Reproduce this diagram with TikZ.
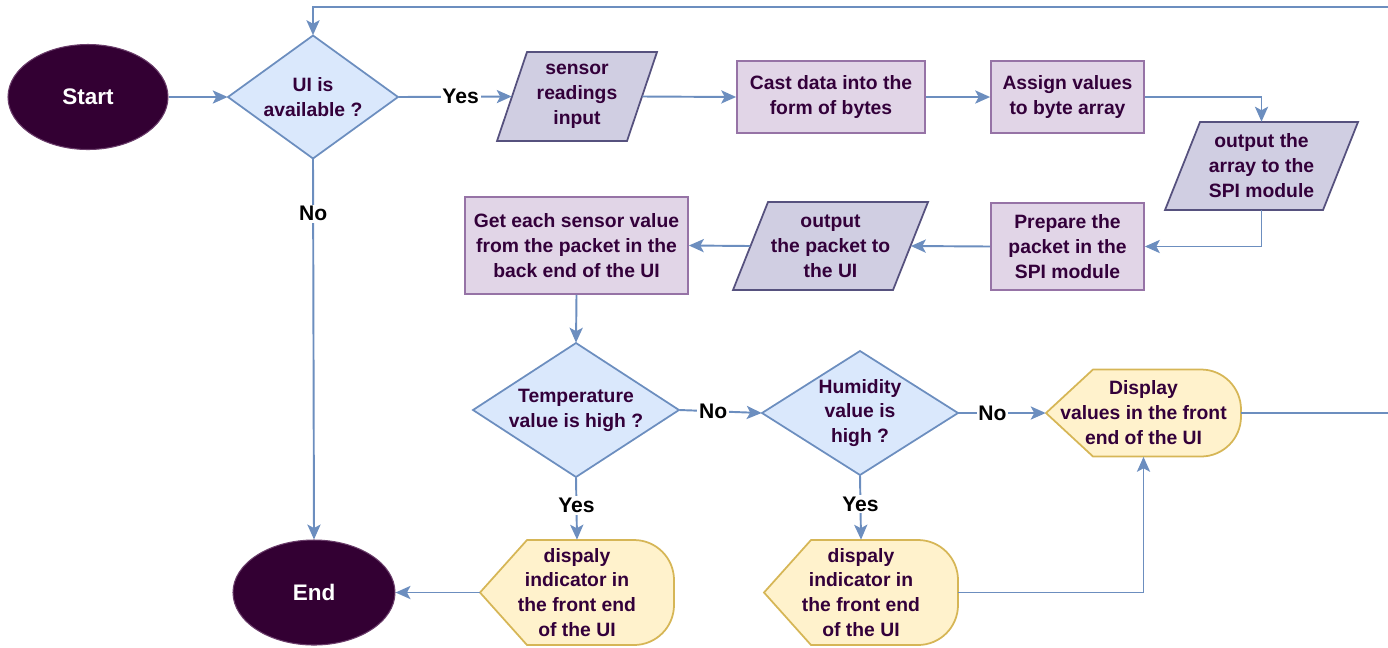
\documentclass[tikz,border=0pt]{standalone}
\usepackage{fontspec}
\setmainfont{Liberation Sans}
\usetikzlibrary{shapes.geometric,arrows.meta}

\definecolor{txt}{HTML}{33003A}
\definecolor{termfill}{HTML}{330033}
\definecolor{termedge}{HTML}{6A3D6A}
\definecolor{link}{HTML}{6C8EBF}
\definecolor{decfill}{HTML}{DAE8FC}
\definecolor{procfill}{HTML}{E1D5E7}
\definecolor{procedge}{HTML}{9673A6}
\definecolor{iofill}{HTML}{D0CEE2}
\definecolor{ioedge}{HTML}{56517E}
\definecolor{dispfill}{HTML}{FFF2CC}
\definecolor{dispedge}{HTML}{D6B656}

\tikzset{
  lbl/.style={font=\bfseries\fontsize{11}{14.2}\selectfont, text=txt, align=center, inner sep=0pt},
  term/.style={ellipse, fill=termfill, draw=termedge, line width=0.6pt,
    font=\bfseries\fontsize{12.8}{15}\selectfont, text=white, inner sep=0pt},
  proc/.style={rectangle, draw=procedge, fill=procfill, line width=1pt, lbl},
  iobox/.style={draw=ioedge, fill=iofill, line width=1pt},
  decbox/.style={draw=link, fill=decfill, line width=1pt},
  dispbox/.style={draw=dispedge, fill=dispfill, line width=1pt},
  holder/.style={rectangle, lbl},
  arr/.style={draw=link, line width=1.1pt, -{Stealth[length=8.5pt,width=7.5pt,inset=2pt]}},
  edgelbl/.style={fill=white, text=black, font=\bfseries\fontsize{12}{14}\selectfont, inner sep=1pt},
}

% parallelogram: name, cx, cy, width at mid-height, height, slant, text
\newcommand{\iopara}[7]{%
  \path[iobox] ({#2-#4/2-#6/2},{#3+#5/2}) -- ({#2-#4/2+#6/2},{#3-#5/2})
    -- ({#2+#4/2+#6/2},{#3-#5/2}) -- ({#2+#4/2-#6/2},{#3+#5/2}) -- cycle;
  \node[holder, minimum width=#4*0.02cm, minimum height=#5*0.02cm] (#1) at (#2,#3) {#7};}

% decision diamond: name, cx, cy, width, height, text
\newcommand{\decide}[6]{%
  \path[decbox] ({#2-#4/2},#3) -- (#2,{#3-#5/2}) -- ({#2+#4/2},#3) -- (#2,{#3+#5/2}) -- cycle;
  \node[holder, minimum width=#4*0.02cm, minimum height=#5*0.02cm] (#1) at (#2,#3) {#6};}

% display symbol: name, cx, cy, width, height, text
\newcommand{\dispsym}[6]{%
  \path[dispbox] ({#2-#4/2},#3) -- ({#2-#4/2+47},{#3-#5/2}) -- ({#2+#4/2-40},{#3-#5/2})
    arc[start angle=-90, end angle=0, radius=40] -- ({#2+#4/2},{#3+#5/2-40})
    arc[start angle=0, end angle=90, radius=40] -- ({#2-#4/2+47},{#3+#5/2}) -- cycle;
  \node[holder, minimum width=#4*0.02cm, minimum height=#5*0.02cm] (#1) at (#2,#3) {#6};}

\begin{document}
\begin{tikzpicture}[x=0.02cm, y=-0.02cm]
\useasboundingbox (0,0) rectangle (1388,647);

% terminators
\node[term, minimum width=160*0.02cm, minimum height=105*0.02cm] (start) at (88,97) {Start};
\node[term, minimum width=162*0.02cm, minimum height=105*0.02cm] (end) at (314,592.5) {End};

% decisions
\decide{ui}{313}{97}{170}{123}{UI is\\available ?}
\decide{temp}{576}{410}{206}{134}{Temperature\\value is high ?}
\decide{hum}{860}{413}{196}{124}{Humidity\\value is\\high ?}

% input / output
\iopara{sensor}{577}{96.5}{130}{89}{30}{sensor\\readings\\input}
\iopara{array}{1261.5}{166}{158}{88}{35}{output the\\array to the\\SPI module}
\iopara{packet}{830.5}{246}{160}{88}{35}{output\\the packet to\\the UI}

% processes
\node[proc, minimum width=188*0.02cm, minimum height=72*0.02cm] (cast) at (831,97) {Cast data into the\\form of bytes};
\node[proc, minimum width=153*0.02cm, minimum height=72*0.02cm] (assign) at (1067.5,97) {Assign values\\to byte array};
\node[proc, minimum width=153*0.02cm, minimum height=87*0.02cm] (prepare) at (1067.5,246.5) {Prepare the\\packet in the\\SPI module};
\node[proc, minimum width=223*0.02cm, minimum height=97*0.02cm] (get) at (576.5,245.5) {Get each sensor value\\from the packet in the\\back end of the UI};

% displays
\dispsym{dispv}{1143.5}{413}{195}{87}{Display\\values in the front\\end of the UI}
\dispsym{indt}{577}{592.5}{194}{105}{dispaly\\indicator in\\the front end\\of the UI}
\dispsym{indh}{861}{592.5}{194}{105}{dispaly\\indicator in\\the front end\\of the UI}

% loop-back route, past the right edge and along the top
\coordinate (loopR) at (1400,7);

% connectors
\draw[arr] (start.east) -- (ui.west);
\draw[arr] (ui.east) -- node[edgelbl, pos=0.55] {Yes} (sensor.west);
\draw[arr] (ui.south) -- node[edgelbl, pos=0.144] {No} (end.north);
\draw[arr] (sensor.east) -- (cast.west);
\draw[arr] (cast.east) -- (assign.west);
\draw[arr] (assign.east) -| (array.north);
\draw[arr] (array.south) |- (prepare.east);
\draw[arr] (prepare.west) -- (packet.east);
\draw[arr] (packet.west) -- (get.east);
\draw[arr] (get.south) -- (temp.north);
\draw[arr] (temp.east) -- node[edgelbl, pos=0.41] {No} (hum.west);
\draw[arr] (hum.east) -- node[edgelbl, pos=0.39] {No} (dispv.west);
\draw[arr] (temp.south) -- node[edgelbl, pos=0.45] {Yes} (indt.north);
\draw[arr] (hum.south) -- node[edgelbl, pos=0.45] {Yes} (indh.north);
\draw[arr] (indt.west) -- (end.east);
\draw[arr] (indh.east) -| (dispv.south);
\draw[arr] (dispv.east) -| (loopR) -| (ui.north);
\end{tikzpicture}
\end{document}
